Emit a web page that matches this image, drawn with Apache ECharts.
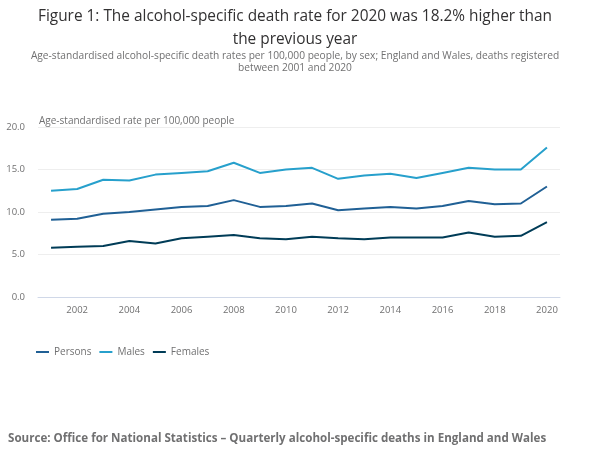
<!DOCTYPE html>
<html><head><meta charset="utf-8">
<script src="https://cdn.jsdelivr.net/npm/echarts@6/dist/echarts.min.js"></script>
<style>html,body{margin:0;padding:0;background:#fff}#c{width:590px;height:463px}</style>
</head><body><div id="c"></div>
<script>
const years = ['2001','2002','2003','2004','2005','2006','2007','2008','2009','2010','2011','2012','2013','2014','2015','2016','2017','2018','2019','2020'];
const persons = [9.1,9.2,9.8,10.0,10.3,10.6,10.7,11.4,10.6,10.7,11.0,10.2,10.4,10.6,10.4,10.7,11.3,10.9,11.0,13.0];
const males = [12.5,12.7,13.8,13.7,14.4,14.6,14.8,15.8,14.6,15.0,15.2,13.9,14.3,14.5,14.0,14.6,15.2,15.0,15.0,17.6];
const females = [5.8,5.9,6.0,6.6,6.3,6.9,7.1,7.3,6.9,6.8,7.1,6.9,6.8,7.0,7.0,7.0,7.6,7.1,7.2,8.8];
const yTicks = [0,5,10,15,20];

const chart = echarts.init(document.getElementById('c'));
const F = '"Open Sans", sans-serif';
chart.setOption({
  animation:false,
  textStyle:{fontFamily:F},
  title:[
    {text:'Figure 1: The alcohol-specific death rate for 2020 was 18.2% higher than\nthe previous year', left:'center', top:0,
     textStyle:{fontFamily:F,fontSize:15.4,fontWeight:'normal',color:'#323132',lineHeight:23}},
    {text:'Age-standardised alcohol-specific death rates per 100,000 people, by sex; England and Wales, deaths registered\nbetween 2001 and 2020', left:'center', top:45,
     textStyle:{fontFamily:F,fontSize:10.2,fontWeight:'normal',color:'#707071',lineHeight:12}},
    {text:'Source: Office for National Statistics \u2013 Quarterly alcohol-specific deaths in England and Wales', left:3, top:428,
     textStyle:{fontFamily:F,fontSize:11.6,fontWeight:'bold',color:'#707071'}}
  ],
  legend:{left:31, top:342, itemWidth:13, itemHeight:2, itemGap:8, icon:'rect',
    textStyle:{fontFamily:F,fontSize:10,color:'#707071'},
    data:['Persons','Males','Females']},
  grid:{left:38, right:30, top:127, bottom:166, containLabel:false},
  xAxis:{type:'category', data:years, boundaryGap:true,
    axisLine:{lineStyle:{color:'#d0d8e8'}},
    axisTick:{alignWithLabel:true, interval:(i)=>i%2===1, length:5, lineStyle:{color:'#d0d8e8'}},
    axisLabel:{interval:(i)=>i%2===1, color:'#707071', fontSize:9.5, margin:8},
    splitLine:{show:false}},
  yAxis:{type:'value', min:yTicks[0], max:yTicks[yTicks.length-1], interval:5,
    name:'Age-standardised rate per 100,000 people', nameLocation:'end', nameGap:1,
    nameTextStyle:{align:'left', color:'#707071', fontSize:10, padding:[0,0,0,1]},
    axisLine:{show:false}, axisTick:{show:false},
    axisLabel:{formatter:(v)=>v.toFixed(1), color:'#707071', fontSize:9.5, margin:13},
    splitLine:{lineStyle:{color:'#eeeeee'}}},
  series:[
    {name:'Persons', type:'line', data:persons, symbol:'none', lineStyle:{width:2,color:'#206095'}, itemStyle:{color:'#206095'}},
    {name:'Males', type:'line', data:males, symbol:'none', lineStyle:{width:2,color:'#27a0cc'}, itemStyle:{color:'#27a0cc'}},
    {name:'Females', type:'line', data:females, symbol:'none', lineStyle:{width:2,color:'#003c57'}, itemStyle:{color:'#003c57'}}
  ]
});
</script></body></html>
